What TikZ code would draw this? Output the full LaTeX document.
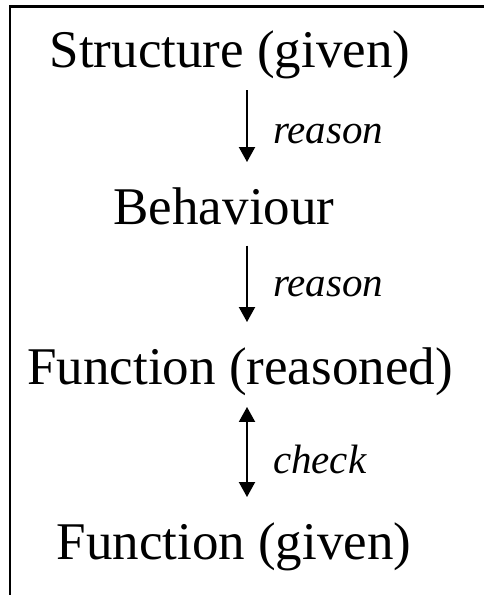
\documentclass[tikz,border=0pt]{standalone}
\usepackage{fontspec}
\setmainfont{Liberation Serif}
\usetikzlibrary{arrows.meta}
\begin{document}
\begin{tikzpicture}[x=1pt,y=1pt,
  term/.style={inner sep=0pt,anchor=base,font=\fontsize{53}{60}\selectfont},
  lbl/.style={inner sep=0pt,anchor=west,font=\fontsize{41}{48}\selectfont\itshape},
  conn/.style={line width=2pt,-{Triangle[length=15pt,width=16pt]}},
  frame/.style={line width=2.2pt,line join=miter}]
\useasboundingbox (0,0) rectangle (484,595);
\draw[frame] (10,0) -- (10,588.5) -- (484,588.5);
\coordinate (ax) at (247,0);
\node[term] (S) at (230,527) {Structure (given)};
\node[term] (B) at (224,370) {Behaviour};
\node[term] (FR) at (240,210) {Function (reasoned)};
\node[term] (FG) at (234,35) {Function (given)};
\draw[conn,shorten <=10.5pt,shorten >=26pt] (S.south -| ax) -- node[lbl,xshift=25pt] (l1) {reason} (B.north -| ax);
\draw[conn,shorten <=20pt,shorten >=26pt] (B.south -| ax) -- node[lbl,xshift=25pt] (l2) {reason} (FR.north -| ax);
\draw[conn,{Triangle[length=15pt,width=16pt]}-{Triangle[length=15pt,width=16pt]},shorten <=10.5pt,shorten >=26pt] (FR.south -| ax) -- node[lbl,xshift=25pt] (l3) {check} (FG.north -| ax);
\end{tikzpicture}
\end{document}
